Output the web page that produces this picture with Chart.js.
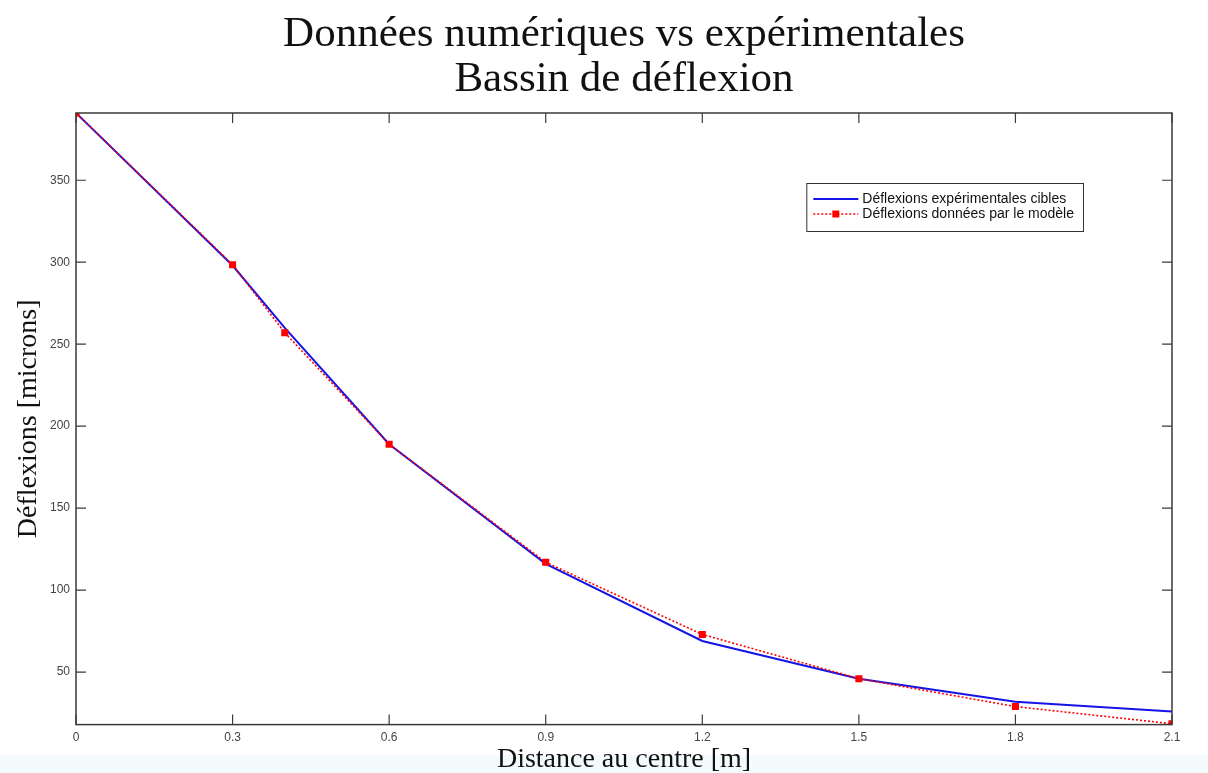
<!DOCTYPE html>
<html lang="fr">
<head>
    <meta charset="UTF-8">
    <title>Bassin de déflexion</title>
    <script src="https://cdn.jsdelivr.net/npm/chart.js"></script>
    <style>
        html, body {
            margin: 0;
            padding: 0;
            background: #ffffff;
        }
        #wrap {
            width: 1208px;
            height: 773px;
        }
    </style>
</head>
<body>
    <div id="wrap"><canvas id="deflexion-chart"></canvas></div>

    <script>
        // distances au centre [m]
        const distances = [0, 0.3, 0.4, 0.6, 0.9, 1.2, 1.5, 1.8, 2.1];
        // deflexions [microns]
        const experimental = [391, 298, 260, 189, 116, 69, 46, 32, 26];
        const model = [391, 298.5, 257, 189, 117, 73, 46, 29, 18.5];

        const xTicks = [0, 0.3, 0.6, 0.9, 1.2, 1.5, 1.8, 2.1];
        const yTicks = [50, 100, 150, 200, 250, 300, 350];

        const titleLines = ['Données numériques vs expérimentales', 'Bassin de déflexion'];

        const serif = '"Liberation Serif", "DejaVu Serif", serif';
        const sans = '"Liberation Sans", Arial, sans-serif';

        function toPoints(values) {
            return distances.map((d, i) => ({ x: d, y: values[i] }));
        }

        // bottom strip of the screenshot
        const backdrop = {
            id: 'backdrop',
            beforeDraw(chart) {
                const ctx = chart.ctx;
                ctx.save();
                ctx.fillStyle = '#f3fbfd';
                ctx.fillRect(0, 755, chart.width, chart.height - 755);
                ctx.restore();
            }
        };

        // title centred over the plot box, like matlab does
        const plotTitle = {
            id: 'plotTitle',
            afterDraw(chart) {
                const ctx = chart.ctx;
                const a = chart.chartArea;
                const cx = (a.left + a.right) / 2;
                ctx.save();
                ctx.font = '43px ' + serif;
                ctx.fillStyle = '#111111';
                ctx.textAlign = 'center';
                ctx.textBaseline = 'middle';
                titleLines.forEach((line, i) => {
                    ctx.fillText(line, cx, 35 + i * 45);
                });
                ctx.restore();
            }
        };

        // matlab style box with inward ticks on all four sides
        const matlabFrame = {
            id: 'matlabFrame',
            afterDatasetsDraw(chart) {
                const ctx = chart.ctx;
                const a = chart.chartArea;
                const xs = chart.scales.x;
                const ys = chart.scales.y;
                const len = 10;
                ctx.save();
                ctx.strokeStyle = '#3a3a3a';
                ctx.lineWidth = 1.5;
                ctx.strokeRect(a.left, a.top, a.right - a.left, a.bottom - a.top);
                ctx.lineWidth = 1.2;
                ctx.beginPath();
                xTicks.forEach(v => {
                    const px = xs.getPixelForValue(v);
                    ctx.moveTo(px, a.bottom);
                    ctx.lineTo(px, a.bottom - len);
                    ctx.moveTo(px, a.top);
                    ctx.lineTo(px, a.top + len);
                });
                yTicks.forEach(v => {
                    const py = ys.getPixelForValue(v);
                    ctx.moveTo(a.left, py);
                    ctx.lineTo(a.left + len, py);
                    ctx.moveTo(a.right, py);
                    ctx.lineTo(a.right - len, py);
                });
                ctx.stroke();
                ctx.restore();
            }
        };

        // legend box in the upper right of the plot
        const boxLegend = {
            id: 'boxLegend',
            afterDraw(chart) {
                const ctx = chart.ctx;
                const a = chart.chartArea;
                const sets = chart.data.datasets.slice().sort((p, q) => p.legendRank - q.legendRank);
                ctx.save();
                ctx.font = '14px ' + sans;
                const textW = Math.max(...sets.map(s => ctx.measureText(s.label).width));
                const w = 7 + 45 + 4 + textW + 9;
                const h = 48;
                const left = a.right - 89 - w;
                const top = a.top + 70;
                ctx.fillStyle = '#ffffff';
                ctx.fillRect(left, top, w, h);
                ctx.strokeStyle = '#333333';
                ctx.lineWidth = 1;
                ctx.strokeRect(left + 0.5, top + 0.5, w, h);
                sets.forEach((s, i) => {
                    const y = top + 16 + i * 15;
                    ctx.strokeStyle = s.borderColor;
                    ctx.lineWidth = s.borderWidth;
                    ctx.setLineDash(s.borderDash || []);
                    ctx.beginPath();
                    ctx.moveTo(left + 7, y);
                    ctx.lineTo(left + 52, y);
                    ctx.stroke();
                    ctx.setLineDash([]);
                    if (s.pointRadius > 0) {
                        ctx.fillStyle = s.pointBackgroundColor;
                        ctx.fillRect(left + 29.5 - 3.5, y - 3.5, 7, 7);
                    }
                    ctx.fillStyle = '#111111';
                    ctx.textBaseline = 'middle';
                    ctx.fillText(s.label, left + 56, y);
                });
                ctx.restore();
            }
        };

        const ctx = document.getElementById('deflexion-chart').getContext('2d');
        new Chart(ctx, {
            type: 'line',
            data: {
                datasets: [
                    {
                        label: 'Déflexions données par le modèle',
                        legendRank: 2,
                        data: toPoints(model),
                        borderColor: '#ff0000',
                        borderWidth: 1.6,
                        borderDash: [2, 2],
                        pointStyle: 'rect',
                        pointRadius: 5,
                        pointBackgroundColor: '#ff0000',
                        pointBorderColor: '#ff0000',
                        pointBorderWidth: 0,
                        tension: 0,
                        order: 1
                    },
                    {
                        label: 'Déflexions expérimentales cibles',
                        legendRank: 1,
                        data: toPoints(experimental),
                        borderColor: '#1414e6',
                        borderWidth: 2,
                        pointRadius: 0,
                        tension: 0,
                        order: 2
                    }
                ]
            },
            options: {
                responsive: true,
                maintainAspectRatio: false,
                animation: false,
                layout: {
                    padding: { top: 113, right: 36, bottom: -6, left: 8 }
                },
                plugins: {
                    legend: { display: false },
                    tooltip: { enabled: false },
                    title: { display: false }
                },
                scales: {
                    x: {
                        type: 'linear',
                        min: 0,
                        max: 2.1,
                        afterBuildTicks(scale) {
                            scale.ticks = xTicks.map(v => ({ value: v }));
                        },
                        grid: { display: false, drawTicks: false },
                        border: { display: false },
                        ticks: {
                            color: '#444444',
                            font: { family: sans, size: 12 },
                            padding: 6,
                            maxRotation: 0,
                            callback: v => String(v)
                        },
                        title: {
                            display: true,
                            text: 'Distance au centre [m]',
                            color: '#111111',
                            font: { family: serif, size: 28, lineHeight: 1 },
                            padding: { top: -5, bottom: 5 }
                        }
                    },
                    y: {
                        type: 'linear',
                        min: 18,
                        max: 391,
                        afterBuildTicks(scale) {
                            scale.ticks = yTicks.map(v => ({ value: v }));
                        },
                        grid: { display: false, drawTicks: false },
                        border: { display: false },
                        ticks: {
                            color: '#444444',
                            font: { family: sans, size: 12 },
                            padding: 6
                        },
                        title: {
                            display: true,
                            text: 'Déflexions [microns]',
                            color: '#111111',
                            font: { family: serif, size: 28, lineHeight: 1 },
                            padding: { top: 7, bottom: 1 }
                        }
                    }
                }
            },
            plugins: [backdrop, matlabFrame, plotTitle, boxLegend]
        });
    </script>
</body>
</html>
